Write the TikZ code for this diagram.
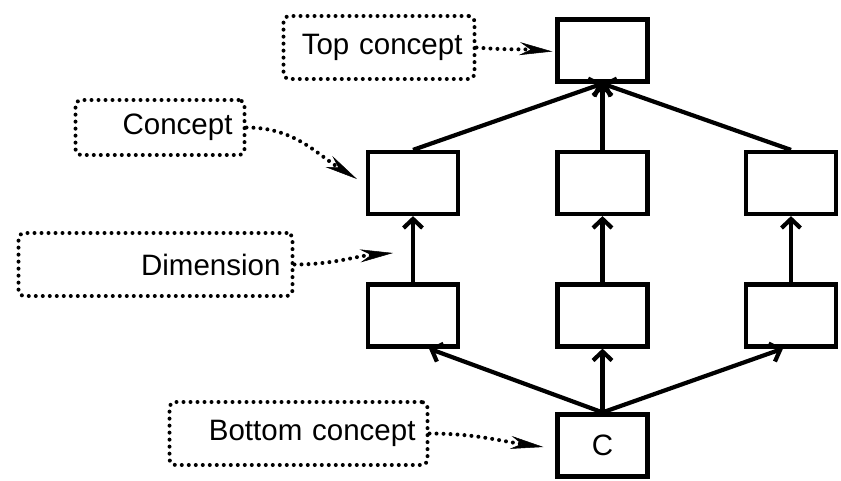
\documentclass[tikz,border=0pt]{standalone}
\usepackage{fontspec}
\setmainfont{Liberation Sans}
\usetikzlibrary{arrows.meta}
\begin{document}
\begin{tikzpicture}[x=1pt,y=-1pt,
  every node/.style={font=\fontsize{29.5}{34}\selectfont},
  cbox/.style={draw,line width=4.2pt,minimum width=90pt,minimum height=62pt,inner sep=0pt},
  lbox/.style={draw,line width=4pt,dash pattern=on 0pt off 7pt,line cap=round,
    rounded corners=6pt,inner xsep=12pt,inner ysep=0pt,align=right},
  link/.style={line width=4.2pt,-{Straight Barb[length=9pt,width=19pt]}},
  hint/.style={line width=4pt,dash pattern=on 0pt off 7pt,line cap=round,
    -{Stealth[length=33pt,width=13pt,inset=11pt,line width=0.5pt]}}]
\useasboundingbox (0,0) rectangle (841,480);

% lattice of concepts
\node[cbox] (t)  at (602.5,50.5) {};
\node[cbox] (c1) at (413,183) {};
\node[cbox] (c2) at (602.5,183) {};
\node[cbox] (c3) at (791,183) {};
\node[cbox] (d1) at (413,315.5) {};
\node[cbox] (d2) at (602.5,315.5) {};
\node[cbox] (d3) at (791,315.5) {};
\node[cbox] (c)  at (602.5,445.5) {C};

\draw[link] (c1.north) -- (t.south);
\draw[link] (c2.north) -- (t.south);
\draw[link] (c3.north) -- (t.south);
\draw[link] (d1.north) -- (c1.south);
\draw[link] (d2.north) -- (c2.south);
\draw[link] (d3.north) -- (c3.south);
\draw[link] (c.north) -- ([xshift=16pt]d1.south);
\draw[link] (c.north) -- (d2.south);
\draw[link] (c.north) -- ([xshift=-8pt]d3.south);

% annotations
\node[lbox,text width=167pt,minimum height=63pt] (tc) at (379,47.5) {Top concept};
\node[lbox,text width=145pt,minimum height=55pt] (cc) at (160,127.5) {Concept};
\node[lbox,text width=250pt,minimum height=63pt] (dc) at (155.5,264.5) {Dimension};
\node[lbox,text width=234pt,minimum height=63pt] (bc) at (298.5,433.5) {Bottom concept};

\coordinate (dtip) at (393,253);

\draw[hint] (tc.east) to[out=-5,in=175] ([xshift=-3pt,yshift=-1pt]t.west);
\draw[hint] (cc.east) to[out=0,in=148] ([xshift=-9pt,yshift=4pt]c1.west);
\draw[hint] (dc.east) to[out=0,in=185] (dtip);
\draw[hint] (bc.east) to[out=0,in=172] ([xshift=-12pt,yshift=-1.5pt]c.west);
\end{tikzpicture}
\end{document}
